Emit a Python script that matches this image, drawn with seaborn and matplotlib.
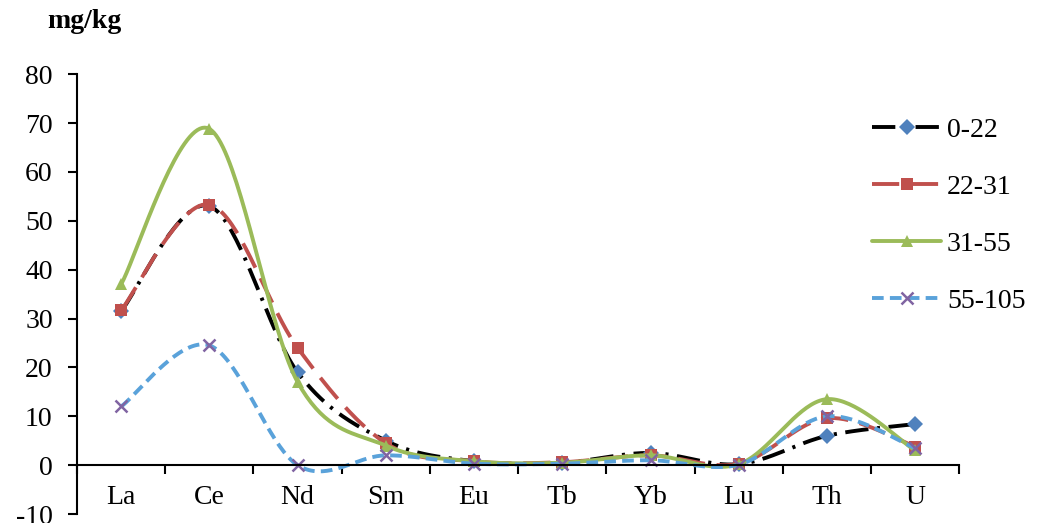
import numpy as np
import pandas as pd
import matplotlib
matplotlib.use("Agg")
import matplotlib.pyplot as plt
import seaborn as sns
from matplotlib.lines import Line2D

categories = ["La", "Ce", "Nd", "Sm", "Eu", "Tb", "Yb", "Lu", "Th", "U"]
s_0_22 = [31.5, 53.0, 19.0, 5.0, 0.8, 0.5, 2.5, 0.2, 6.0, 8.4]
s_22_31 = [31.7, 53.3, 24.0, 4.5, 0.8, 0.6, 2.0, 0.3, 9.6, 3.8]
s_31_55 = [37.0, 68.8, 17.0, 4.0, 0.8, 0.5, 2.0, 0.2, 13.5, 3.0]
s_55_105 = [12.0, 24.5, 0.0, 2.0, 0.3, 0.3, 1.0, 0.1, 10.0, 3.5]
series_names = ["0-22", "22-31", "31-55", "55-105"]

sns.set_theme(style="white")
plt.rcParams["font.family"] = ["Liberation Serif", "DejaVu Serif"]
plt.rcParams["axes.unicode_minus"] = False

FS = 20


def smooth(xs, ys, t=1/6, n=40):
    P = np.column_stack([xs, ys]).astype(float)
    m = len(P)
    out = []
    for i in range(m - 1):
        p0 = P[i - 1] if i > 0 else P[i]
        p1 = P[i]
        p2 = P[i + 1]
        p3 = P[i + 2] if i + 2 < m else P[i + 1]
        c1 = p1 + (p2 - p0) * t
        c2 = p2 - (p3 - p1) * t
        u = np.linspace(0, 1, n)[:, None]
        seg = ((1 - u) ** 3) * p1 + 3 * ((1 - u) ** 2) * u * c1 + 3 * (1 - u) * u ** 2 * c2 + u ** 3 * p2
        out.append(seg if i == 0 else seg[1:])
    return np.vstack(out)


fig = plt.figure(figsize=(10.38, 5.23), dpi=100)
ax = fig.add_axes([0.0742, 0.0172, 0.85, 0.841])

styles = [
    dict(color="black", ls=(0, (6, 2.2, 0.8, 2.2)), marker="D", mc="#4F81BD", ms=8),
    dict(color="#C0504D", ls=(0, (7, 3)), marker="s", mc="#C0504D", ms=9),
    dict(color="#9BBB59", ls="-", marker="^", mc="#9BBB59", ms=9),
    dict(color="#5AA2DA", ls=(0, (3, 1.6)), marker="x", mc="#8064A2", ms=8),
]
data = [s_0_22, s_22_31, s_31_55, s_55_105]
xs = np.arange(len(categories))

handles = []
for name, vals, st in zip(series_names, data, styles):
    curve = smooth(xs, vals)
    df = pd.DataFrame({"x": curve[:, 0], "y": curve[:, 1]})
    ax.plot(df["x"], df["y"], color=st["color"], lw=2.8, ls=st["ls"], solid_capstyle="butt")
    mdf = pd.DataFrame({"x": xs, "y": vals})
    if st["marker"] == "x":
        ax.plot(mdf["x"], mdf["y"], ls="none", marker="x", ms=st["ms"], mew=1.8, color=st["mc"])
    else:
        ax.plot(mdf["x"], mdf["y"], ls="none", marker=st["marker"], ms=st["ms"], mew=0, color=st["mc"])
    handles.append(Line2D([0], [0], color=st["color"], lw=2.8, ls=st["ls"], marker=st["marker"],
                          ms=st["ms"], mfc=st["mc"], mec=st["mc"], mew=(1.8 if st["marker"] == "x" else 0)))

ax.set_xlim(-0.5, len(categories) - 0.5)
ax.set_ylim(-10, 80)
ax.set_yticks(np.arange(-10, 81, 10))
ax.set_xticks(xs)
ax.set_xticklabels(categories)
ax.set_xticks(np.arange(-0.5, len(categories), 1), minor=True)

ax.spines["top"].set_visible(False)
ax.spines["right"].set_visible(False)
ax.spines["bottom"].set_position(("data", 0))
for s in ["left", "bottom"]:
    ax.spines[s].set_color("black")
    ax.spines[s].set_linewidth(1.5)

ax.tick_params(axis="y", which="major", direction="out", length=6.5, width=1.5, color="black",
               pad=11, left=True, labelsize=FS, labelcolor="black")
ax.tick_params(axis="x", which="major", length=0, pad=14, labelsize=FS, labelcolor="black")
ax.tick_params(axis="x", which="minor", direction="out", length=6.5, width=1.5, color="black", bottom=True)

fig.text(0.046, 0.958, "mg/kg", fontsize=FS, fontweight="bold", ha="left", va="center", color="black")

leg = fig.legend(handles, series_names, loc="upper left", bbox_to_anchor=(0.816, 0.823), frameon=False,
                 fontsize=FS, handlelength=2.5, labelspacing=1.13, handletextpad=0.2)
for t in leg.get_texts():
    t.set_color("black")

fig.savefig("out.png", dpi=100)
